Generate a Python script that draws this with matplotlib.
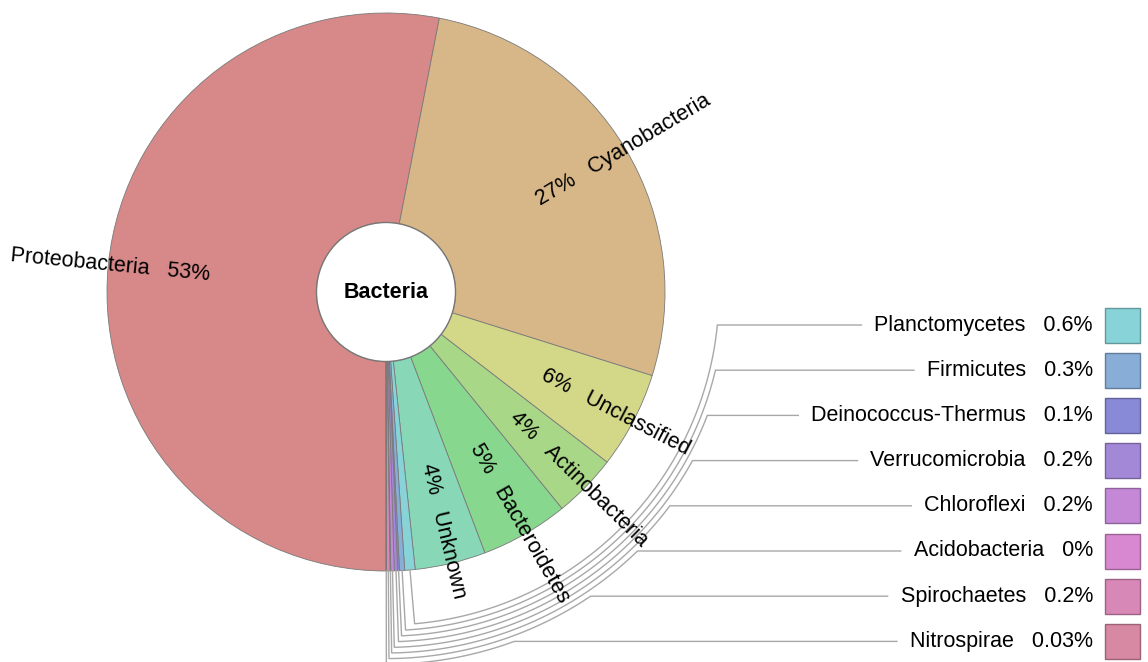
import numpy as np
import matplotlib.pyplot as plt
from matplotlib.patches import Wedge, Circle, Rectangle
from matplotlib.colors import to_rgb

plt.rcParams['font.family'] = ['Liberation Sans', 'DejaVu Sans']

# big slices (labelled on the pie)
big_names = ['Proteobacteria', 'Cyanobacteria', 'Unclassified', 'Actinobacteria',
             'Bacteroidetes', 'Unknown']
big_values = [53.1, 26.8, 5.6, 3.7, 5.1, 4.1]
big_labels = ['53%', '27%', '6%', '4%', '5%', '4%']

# small slices (labelled on the right)
small_names = ['Planctomycetes', 'Firmicutes', 'Deinococcus-Thermus', 'Verrucomicrobia',
               'Chloroflexi', 'Acidobacteria', 'Spirochaetes', 'Nitrospirae']
small_values = [0.6, 0.3, 0.1, 0.2, 0.2, 0.04, 0.2, 0.03]
small_labels = ['0.6%', '0.3%', '0.1%', '0.2%', '0.2%', '0%', '0.2%', '0.03%']

big_colors = ['#d78888', '#d7b788', '#d3d788', '#a9d788', '#88d78f', '#88d7b7']
small_colors = ['#88d3d7', '#88add7', '#8889d7', '#a388d7', '#c488d7', '#d788d0',
                '#d788b7', '#d788a3']

W, H = 1148, 662
cx, cy = 386, H - 292
R, r_in = 279, 69.5
fs = 15.5

fig = plt.figure(figsize=(W / 100, H / 100), dpi=100)
ax = fig.add_axes([0, 0, 1, 1])
ax.set_xlim(0, W)
ax.set_ylim(0, H)
ax.axis('off')

values = big_values + small_values
colors = big_colors + small_colors
total = sum(values)

# angles measured clockwise from 12 o'clock, starting at 6 o'clock
bounds = 180 + np.concatenate([[0], np.cumsum(values)]) * 360 / total
mids = (bounds[:-1] + bounds[1:]) / 2

for i, c in enumerate(colors):
    a0, a1 = bounds[i], bounds[i + 1]
    ax.add_patch(Wedge((cx, cy), R, 90 - a1, 90 - a0, width=R - r_in,
                       facecolor=c, edgecolor='#7a7a7a', lw=0.6))

ax.add_patch(Circle((cx, cy), r_in, facecolor='white', edgecolor='#777777', lw=1.0))
ax.text(cx, cy, 'Bacteria', ha='center', va='center', fontsize=fs, fontweight='bold')

# radial labels
r_txt = 177
for i, name in enumerate(big_names):
    m = mids[i]
    px = cx + r_txt * np.sin(np.radians(m))
    py = cy + r_txt * np.cos(np.radians(m))
    if m % 360 < 180:
        ax.text(px, py, f'{big_labels[i]}   {name}', rotation=90 - m, ha='left',
                va='center', rotation_mode='anchor', fontsize=fs)
    else:
        ax.text(px, py, f'{name}   {big_labels[i]}', rotation=270 - m, ha='right',
                va='center', rotation_mode='anchor', fontsize=fs)

# right-hand list with leader lines
row_top, row_step = 325, 45.2
texts = []
for j, name in enumerate(small_names):
    y = H - (row_top + row_step * j)
    t = ax.text(1093, y, f'{name}   {small_labels[j]}', ha='right', va='center',
                fontsize=fs)
    texts.append(t)
    c = np.array(to_rgb(small_colors[j]))
    ax.add_patch(Rectangle((1105, y - 17.5), 35, 35, facecolor=c,
                           edgecolor=c * 0.72, lw=1.0))

fig.canvas.draw()
inv = ax.transData.inverted()
line_col = '#a8a8a8'
for j in range(len(small_names)):
    m = mids[len(big_names) + j] % 360
    y = H - (row_top + row_step * j)
    rj = 333 + 5.6 * j
    th_end = np.degrees(np.arccos((y - cy) / rj))
    th = np.linspace(m, th_end, 120)
    xs = np.concatenate([[cx + R * np.sin(np.radians(m))], cx + rj * np.sin(np.radians(th))])
    ys = np.concatenate([[cy + R * np.cos(np.radians(m))], cy + rj * np.cos(np.radians(th))])
    bb = texts[j].get_window_extent()
    x_stop = inv.transform((bb.x0, bb.y0))[0] - 13
    xs = np.append(xs, x_stop)
    ys = np.append(ys, ys[-1])
    ax.plot(xs, ys, color=line_col, lw=1.0, solid_joinstyle='miter')

fig.savefig('out.png', dpi=100)
